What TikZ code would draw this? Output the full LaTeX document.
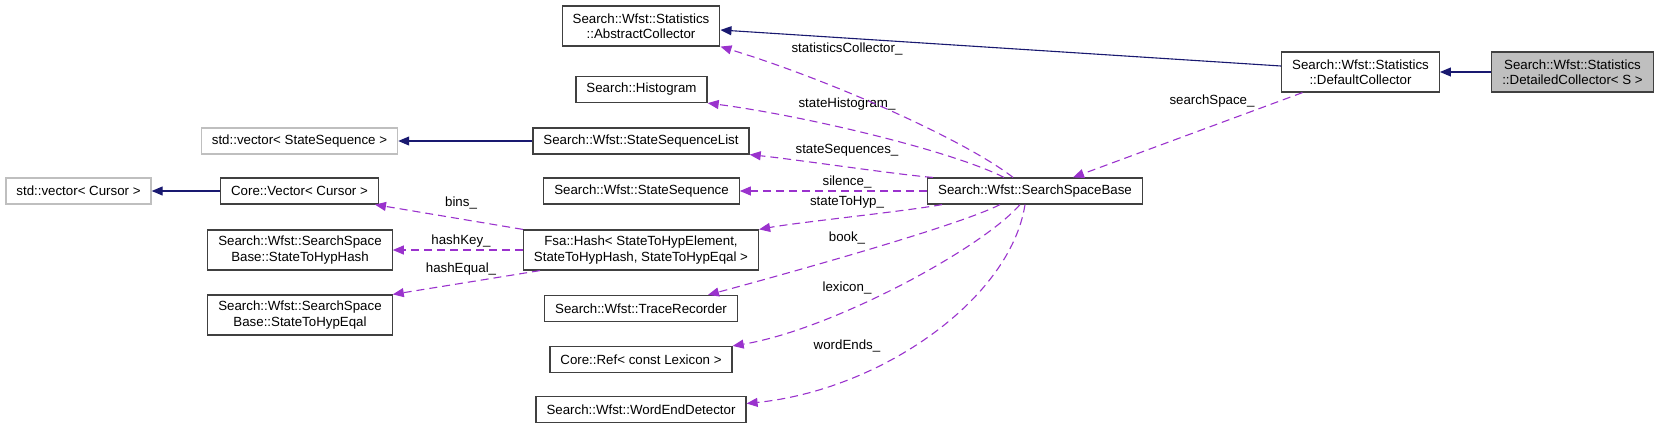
\documentclass[tikz,border=0pt]{standalone}
\usepackage{fontspec}
\setmainfont{Liberation Sans}
\usetikzlibrary{arrows.meta}
\definecolor{edgeblue}{HTML}{191970}
\definecolor{edgepurple}{HTML}{9A32CD}
\definecolor{boxgray}{HTML}{BFBFBF}
\definecolor{boxline}{HTML}{404040}
\begin{document}
\begin{tikzpicture}[x=1pt, y=-1pt,
    cls/.style={draw=boxline, line width=1.2pt, inner xsep=10.5pt, inner ysep=4pt,
      minimum height=26pt, align=center, font=\fontsize{13.3}{15.5}\selectfont},
    cls2/.style={cls, minimum height=40pt},
    ext/.style={cls, draw=boxgray},
    cur/.style={cls2, fill=boxgray},
    inherit/.style={edgeblue, line width=1.1pt, -{Triangle[length=11pt,width=9pt]}},
    use/.style={edgepurple, line width=1.1pt, dash pattern=on 8pt off 5pt,
      -{Triangle[length=11pt,width=9pt]}},
    lbl/.style={font=\fontsize{13.3}{15.5}\selectfont, inner sep=0pt}]
    \useasboundingbox (0,0) rectangle (1659,429);

    % First column of nodes
    \node[ext] (A1) at (78.5, 191) {std::vector< Cursor >};

    % Second column of nodes
    \node[ext] (B1) at (299.5, 141) {std::vector< StateSequence >};
    \node[cls] (B2) at (299.5, 191) {Core::Vector< Cursor >};
    \node[cls2] (B3) at (300, 250) {Search::Wfst::SearchSpace\\Base::StateToHypHash};
    \node[cls2] (B4) at (300, 315) {Search::Wfst::SearchSpace\\Base::StateToHypEqal};

    % Third column of nodes
    \node[cls2] (C1) at (641, 26) {Search::Wfst::Statistics\\::AbstractCollector};
    \node[cls] (C2) at (641.5, 89.5) {Search::Histogram};
    \node[cls] (C3) at (641, 141) {Search::Wfst::StateSequenceList};
    \node[cls] (C4) at (641.5, 191) {Search::Wfst::StateSequence};
    \node[cls2] (C5) at (641, 250) {Fsa::Hash< StateToHypElement,\\StateToHypHash, StateToHypEqal >};
    \node[cls] (C6) at (641, 308.5) {Search::Wfst::TraceRecorder};
    \node[cls] (C7) at (641, 359.5) {Core::Ref< const Lexicon >};
    \node[cls] (C8) at (641, 409.5) {Search::Wfst::WordEndDetector};

    % Right part
    \node[cls] (D1) at (1035, 191) {Search::Wfst::SearchSpaceBase};
    \node[cls2] (E1) at (1360.5, 72) {Search::Wfst::Statistics\\::DefaultCollector};
    \node[cur] (F1) at (1572.5, 72) {Search::Wfst::Statistics\\::DetailedCollector< S >};

    % Edge labels
    \node[lbl] (L1) at (847, 49) {statisticsCollector\_};
    \node[lbl] (L2) at (847, 104) {stateHistogram\_};
    \node[lbl] (L3) at (847, 150) {stateSequences\_};
    \node[lbl] (L4) at (847, 182) {silence\_};
    \node[lbl] (L5) at (847, 202) {stateToHyp\_};
    \node[lbl] (L6) at (847, 238) {book\_};
    \node[lbl] (L7) at (847, 288) {lexicon\_};
    \node[lbl] (L8) at (847, 346) {wordEnds\_};
    \node[lbl] (L9) at (1212, 101) {searchSpace\_};
    \node[lbl] (L10) at (461, 203) {bins\_};
    \node[lbl] (L11) at (461, 241) {hashKey\_};
    \node[lbl] (L12) at (461, 269) {hashEqual\_};

    % Inheritance edges
    \draw[inherit] (F1.west) -- (E1.east);
    \draw[inherit] ([yshift=6pt]E1.west) -- ([yshift=-4pt]C1.east);
    \draw[inherit] (C3.west) -- (B1.east);
    \draw[inherit] (B2.west) -- (A1.east);

    % Member edges
    \draw[use] ([xshift=-58pt]E1.south) -- ([xshift=38pt]D1.north);
    \draw[use] ([xshift=-22pt]D1.north) .. controls (965,140) and (830,80) .. (C1.south east);
    \draw[use] ([xshift=-31pt]D1.north) .. controls (950,150) and (800,115) .. (C2.south east);
    \draw[use] ([xshift=-102pt]D1.north) .. controls (900,175) and (800,160) .. (C3.south east);
    \draw[use] (D1.west) -- (C4.east);
    \draw[use] ([xshift=-93pt]D1.south) .. controls (900,212) and (800,222) .. (C5.north east);
    \draw[use] ([xshift=-35pt]D1.south) .. controls (960,225) and (800,270) .. ([xshift=-30pt]C6.north east);
    \draw[use] ([xshift=-15pt]D1.south) .. controls (980,250) and (830,330) .. (C7.north east);
    \draw[use] ([xshift=-10pt]D1.south) .. controls (1010,300) and (880,390) .. ([yshift=6pt]C8.east);
    \draw[use] (C5.north west) -- ([xshift=-4pt]B2.south east);
    \draw[use] (C5.west) -- (B3.east);
    \draw[use] ([xshift=17pt]C5.south west) -- (B4.north east);
\end{tikzpicture}
\end{document}
